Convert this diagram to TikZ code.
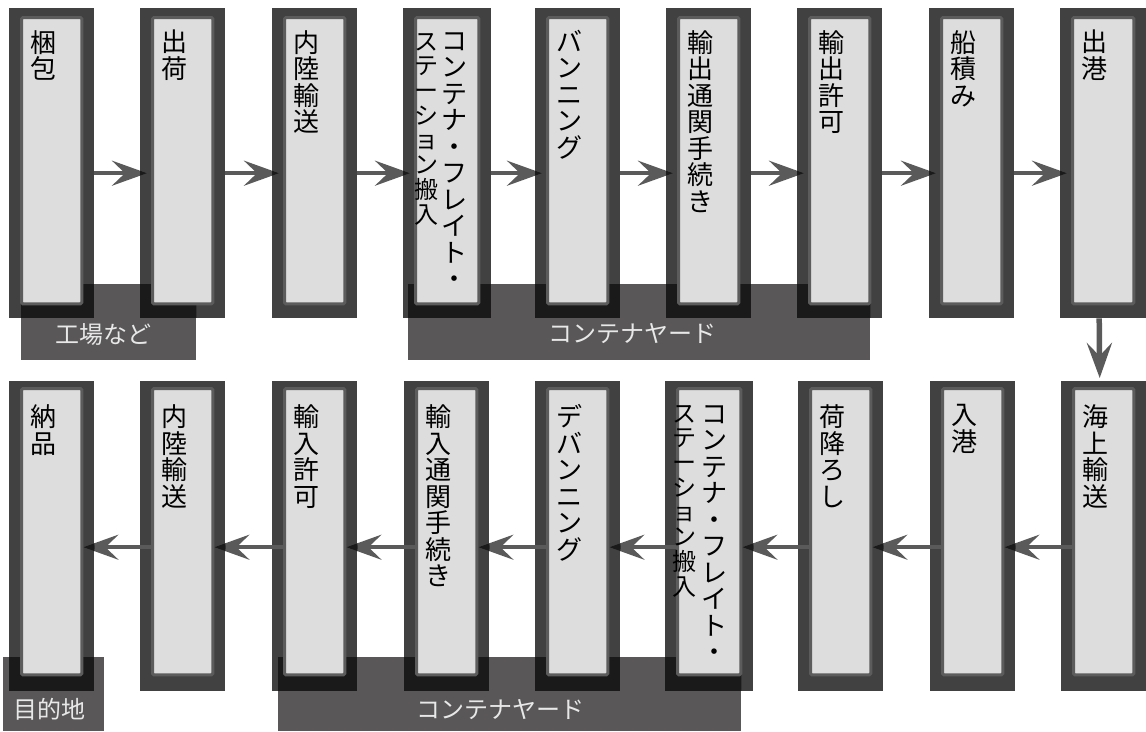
\documentclass[tikz,border=0pt]{standalone}
\usepackage{fontspec}
\setmainfont{Noto Sans CJK JP}
\usetikzlibrary{arrows.meta}
\definecolor{outerc}{RGB}{65,65,65}
\definecolor{innerb}{RGB}{92,92,92}
\definecolor{innerf}{RGB}{220,221,220}
\definecolor{labelc}{RGB}{89,87,88}
\definecolor{overc}{RGB}{26,26,26}
\definecolor{arrc}{RGB}{90,90,90}
\definecolor{labtxt}{RGB}{232,232,232}
\begin{document}
\begin{tikzpicture}[x=1pt,y=-1pt,
  outerbox/.style={fill=outerc, draw=none, minimum height=310pt, inner sep=0pt, anchor=north west},
  labelbox/.style={fill=labelc, draw=none, inner sep=0pt, anchor=north west},
  innerbox/.style={draw=innerb, fill=innerf, line width=3pt, rounded corners=1.5pt},
  txt/.style={font=\fontsize{26}{26.5}\selectfont, align=left, inner sep=0pt, anchor=north west, text=black},
  txtsmall/.style={font=\fontsize{24}{24.7}\selectfont, align=left, inner sep=0pt, anchor=north west, text=black},
  labtext/.style={font=\fontsize{24}{26}\selectfont, text=labtxt, inner sep=0pt},
  flow/.style={draw=arrc, line width=4pt, -{Stealth[length=35pt,width=25pt,inset=13pt]}},
  flowdark/.style={draw=overc, line width=4pt, -{Stealth[length=35pt,width=25pt,inset=13pt]}},
]
\fill[white] (0,0) rectangle (1146,731);
\useasboundingbox (0,0) rectangle (1146,731);

% outer boxes
\foreach \i/\x/\w in {1/9/85, 2/140/85, 3/272/85, 4/403/88, 5/535/85, 6/666/85, 7/797/85, 8/929/85, 9/1060/86}
  {\node[outerbox, minimum width=\w pt] (t\i) at (\x,8) {};}
\foreach \i/\x/\w in {1/9/85, 2/140/85, 3/272/85, 4/404/85, 5/535/85, 6/665/88, 7/798/85, 8/930/85, 9/1061/85}
  {\node[outerbox, minimum width=\w pt] (b\i) at (\x,381) {};}

% labels
\node[labelbox, minimum width=175pt, minimum height=76pt] (L1) at (21,284) {};
\node[labelbox, minimum width=462pt, minimum height=76pt] (L2) at (408,284) {};
\node[labelbox, minimum width=101pt, minimum height=74pt] (L3) at (3,657) {};
\node[labelbox, minimum width=463pt, minimum height=74pt] (L4) at (278,657) {};

% overlaps
\foreach \L in {L1,L2}{
  \begin{scope}
    \clip (\L.north west) rectangle (\L.south east);
    \foreach \i in {1,...,9} \fill[overc] (t\i.north west) rectangle (t\i.south east);
  \end{scope}}
\foreach \L in {L3,L4}{
  \begin{scope}
    \clip (\L.north west) rectangle (\L.south east);
    \foreach \i in {1,...,9} \fill[overc] (b\i.north west) rectangle (b\i.south east);
  \end{scope}}

% arrows
\foreach \i/\j in {1/2,2/3,3/4,4/5,5/6,6/7,7/8,8/9}{
  \draw[flow] ([yshift=-10pt]t\i.east) -- ([xshift=7pt,yshift=-10pt]t\j.west);
  \begin{scope}
    \clip (t\j.north west) rectangle (t\j.south east);
    \draw[flowdark] ([yshift=-10pt]t\i.east) -- ([xshift=7pt,yshift=-10pt]t\j.west);
  \end{scope}
  \draw[flow] ([xshift=11pt,yshift=-11pt]b\j.west) -- ([xshift=-11pt,yshift=-11pt]b\i.east);
  \begin{scope}
    \clip (b\i.north west) rectangle (b\i.south east);
    \draw[flowdark] ([xshift=11pt,yshift=-11pt]b\j.west) -- ([xshift=-11pt,yshift=-11pt]b\i.east);
  \end{scope}
}
\draw[flow, line width=5.5pt] ([xshift=-4pt]t9.south) -- ([xshift=-4pt,yshift=3pt]b9.north);

% inner boxes
\foreach \i in {1,...,9}{
  \draw[innerbox] ([xshift=12.5pt,yshift=-9.5pt]t\i.north west) rectangle ([xshift=-12.5pt,yshift=14.5pt]t\i.south east);
  \draw[innerbox] ([xshift=12.5pt,yshift=-7.5pt]b\i.north west) rectangle ([xshift=-12.5pt,yshift=16.5pt]b\i.south east);
}

% top row texts
\node[txt] (t1t) at ([xshift=21pt,yshift=-22pt]t1.north west) {梱\\包};
\node[txt] (t2t) at ([xshift=21pt,yshift=-22pt]t2.north west) {出\\荷};
\node[txt] (t3t) at ([xshift=21pt,yshift=-22pt]t3.north west) {内\\陸\\輸\\送};
\node[txt] (t4a) at ([xshift=38pt,yshift=-24pt]t4.north west) {コ\\ン\\テ\\ナ\\・\\フ\\レ\\イ\\ト\\・};
\node[txtsmall] (t4b) at ([xshift=11pt,yshift=-25pt]t4.north west) {ス\\テ\\ー\\シ\\ョ\\ン\\搬\\入};
\node[txt] (t5t) at ([xshift=21pt,yshift=-22pt]t5.north west) {バ\\ン\\ニ\\ン\\グ};
\node[txt] (t6t) at ([xshift=21pt,yshift=-22pt]t6.north west) {輸\\出\\通\\関\\手\\続\\き};
\node[txt] (t7t) at ([xshift=21pt,yshift=-22pt]t7.north west) {輸\\出\\許\\可};
\node[txt] (t8t) at ([xshift=21pt,yshift=-22pt]t8.north west) {船\\積\\み};
\node[txt] (t9t) at ([xshift=21pt,yshift=-22pt]t9.north west) {出\\港};

% bottom row texts
\node[txt] (b1t) at ([xshift=21pt,yshift=-23.5pt]b1.north west) {納\\品};
\node[txt] (b2t) at ([xshift=21pt,yshift=-23.5pt]b2.north west) {内\\陸\\輸\\送};
\node[txt] (b3t) at ([xshift=21pt,yshift=-23.5pt]b3.north west) {輸\\入\\許\\可};
\node[txt] (b4t) at ([xshift=21pt,yshift=-23.5pt]b4.north west) {輸\\入\\通\\関\\手\\続\\き};
\node[txt] (b5t) at ([xshift=21pt,yshift=-23.5pt]b5.north west) {デ\\バ\\ン\\ニ\\ン\\グ};
\node[txt] (b6a) at ([xshift=36pt,yshift=-24pt]b6.north west) {コ\\ン\\テ\\ナ\\・\\フ\\レ\\イ\\ト\\・};
\node[txtsmall] (b6b) at ([xshift=7pt,yshift=-24pt]b6.north west) {ス\\テ\\ー\\シ\\ョ\\ン\\搬\\入};
\node[txt] (b7t) at ([xshift=21pt,yshift=-23.5pt]b7.north west) {荷\\降\\ろ\\し};
\node[txt] (b8t) at ([xshift=21pt,yshift=-23.5pt]b8.north west) {入\\港};
\node[txt] (b9t) at ([xshift=21pt,yshift=-23.5pt]b9.north west) {海\\上\\輸\\送};

% label texts
\node[labtext] (L1t) at (103,335) {工場など};
\node[labtext] (L2t) at (632,334) {コンテナヤード};
\node[labtext] (L3t) at (49,709) {目的地};
\node[labtext] (L4t) at (500,710) {コンテナヤード};
\end{tikzpicture}
\end{document}
